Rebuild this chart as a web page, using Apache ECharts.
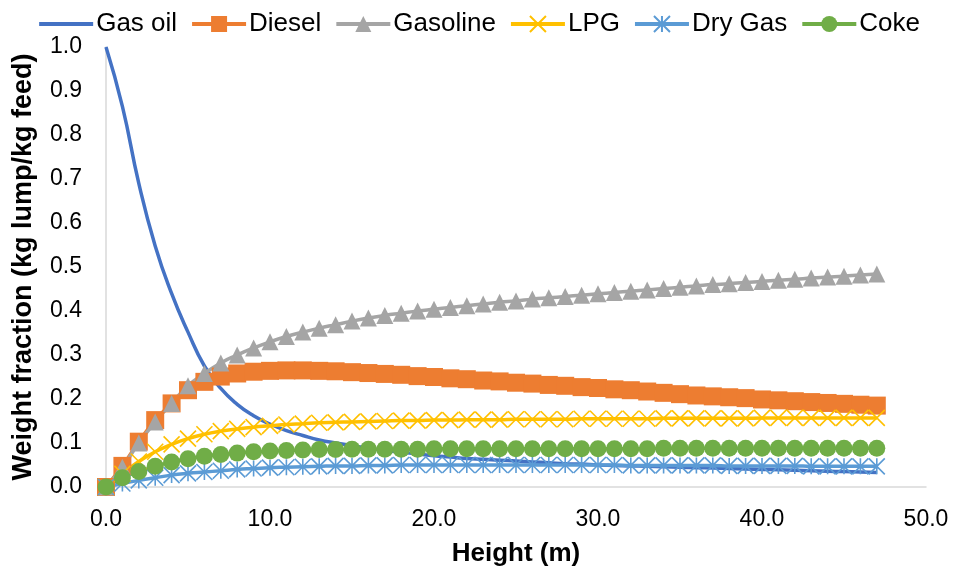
<!DOCTYPE html>
<html>
<head>
<meta charset="utf-8">
<script src="https://cdn.jsdelivr.net/npm/echarts@6/dist/echarts.min.js"></script>
<style>
  html, body { margin: 0; padding: 0; background: #fff; }
  #chart { width: 955px; height: 572px; }
</style>
</head>
<body>
<div id="chart"></div>
<script>
// height along the riser (m)
const heights = [0, 1, 2, 3, 4, 5, 6, 7, 8, 9, 10, 11, 12, 13, 14, 15, 16, 17, 18, 19, 20, 21, 22, 23,
    24, 25, 26, 27, 28, 29, 30, 31, 32, 33, 34, 35, 36, 37, 38, 39, 40, 41, 42, 43, 44, 45, 46, 47]

const gasOil = [1.000, 0.865, 0.690, 0.548, 0.440, 0.352, 0.275, 0.224, 0.188, 0.162, 0.143, 0.128,
    0.117, 0.107, 0.100, 0.094, 0.088, 0.083, 0.079, 0.075, 0.071, 0.068, 0.065, 0.063,
    0.061, 0.059, 0.057, 0.055, 0.053, 0.052, 0.050, 0.049, 0.048, 0.047, 0.046, 0.045,
    0.044, 0.043, 0.042, 0.041, 0.040, 0.039, 0.038, 0.037, 0.036, 0.035, 0.034, 0.033]

const diesel = [0, 0.048, 0.103, 0.152, 0.190, 0.220, 0.239, 0.251, 0.258, 0.262, 0.264, 0.265,
    0.265, 0.264, 0.263, 0.261, 0.259, 0.257, 0.255, 0.252, 0.250, 0.247, 0.245, 0.242,
    0.240, 0.237, 0.235, 0.232, 0.230, 0.227, 0.225, 0.222, 0.220, 0.217, 0.214, 0.211,
    0.208, 0.206, 0.204, 0.202, 0.199, 0.197, 0.195, 0.193, 0.191, 0.189, 0.187, 0.185]

const gasoline = [0, 0.045, 0.100, 0.148, 0.190, 0.230, 0.258, 0.282, 0.300, 0.316, 0.330, 0.342,
    0.352, 0.361, 0.369, 0.377, 0.384, 0.390, 0.395, 0.400, 0.404, 0.408, 0.412, 0.416,
    0.420, 0.423, 0.427, 0.430, 0.433, 0.436, 0.439, 0.442, 0.445, 0.448, 0.451, 0.454,
    0.457, 0.460, 0.462, 0.465, 0.467, 0.470, 0.472, 0.475, 0.477, 0.479, 0.482, 0.484]

const lpg = [0, 0.030, 0.058, 0.080, 0.097, 0.110, 0.120, 0.127, 0.132, 0.136, 0.139, 0.142,
    0.144, 0.146, 0.147, 0.148, 0.149, 0.150, 0.151, 0.151, 0.152, 0.152, 0.153, 0.153,
    0.153, 0.154, 0.154, 0.154, 0.154, 0.155, 0.155, 0.155, 0.155, 0.155, 0.156, 0.156,
    0.156, 0.156, 0.156, 0.156, 0.157, 0.157, 0.157, 0.157, 0.157, 0.157, 0.157, 0.157]

const dryGas = [0, 0.008, 0.015, 0.021, 0.027, 0.031, 0.034, 0.037, 0.040, 0.042, 0.044, 0.045,
    0.046, 0.047, 0.048, 0.048, 0.049, 0.049, 0.050, 0.050, 0.050, 0.050, 0.050, 0.050,
    0.050, 0.050, 0.050, 0.050, 0.050, 0.050, 0.050, 0.050, 0.049, 0.049, 0.049, 0.049,
    0.049, 0.049, 0.048, 0.048, 0.048, 0.048, 0.048, 0.047, 0.047, 0.047, 0.047, 0.047]

const coke = [0, 0.021, 0.035, 0.047, 0.057, 0.064, 0.070, 0.074, 0.077, 0.080, 0.082, 0.083,
    0.084, 0.085, 0.085, 0.086, 0.086, 0.086, 0.086, 0.086, 0.087, 0.087, 0.087, 0.087,
    0.087, 0.087, 0.087, 0.087, 0.087, 0.087, 0.087, 0.087, 0.087, 0.087, 0.088, 0.088,
    0.088, 0.088, 0.088, 0.088, 0.088, 0.088, 0.088, 0.088, 0.088, 0.088, 0.088, 0.088]

const font = 'Liberation Sans, Arial, sans-serif'
const crossPath = 'path://M0,0L10,10M10,0L0,10'
const starPath = 'path://M0,0L10,10M10,0L0,10M5,0L5,10'

function pairs(ys) {
    return heights.map((h, i) => [h, ys[i]])
}

function lineSeries(name, ys, color, symbol, size, extra) {
    return Object.assign({
        name: name,
        type: 'line',
        data: pairs(ys),
        smooth: true,
        symbol: symbol,
        symbolSize: size,
        showAllSymbol: true,
        lineStyle: { color: color, width: 3.5 },
        itemStyle: { color: color },
        emphasis: { disabled: true },
        animation: false
    }, extra || {})
}

const chart = echarts.init(document.getElementById('chart'))
chart.setOption({
    backgroundColor: '#fff',
    textStyle: { fontFamily: font },
    legend: {
        top: 6,
        right: 30,
        itemWidth: 54,
        itemHeight: 20,
        itemGap: 13,
        lineStyle: { width: 4 },
        textStyle: { fontFamily: font, fontSize: 26, color: '#000', padding: [0, 0, 0, -2] },
        data: [
            { name: 'Gas oil', itemStyle: { opacity: 0 } },
            'Diesel', 'Gasoline', 'LPG', 'Dry Gas', 'Coke'
        ]
    },
    grid: { left: 106, right: 29, top: 47, bottom: 85 },
    xAxis: {
        type: 'value',
        min: 0,
        max: 50,
        interval: 10,
        name: 'Height (m)',
        nameLocation: 'middle',
        nameGap: 54,
        nameTextStyle: { fontFamily: font, fontSize: 26, fontWeight: 'bold', color: '#000' },
        axisLine: { lineStyle: { color: '#D9D9D9', width: 1.5 } },
        axisTick: { show: false },
        splitLine: { show: false },
        axisLabel: {
            margin: 21,
            fontFamily: font,
            fontSize: 23,
            color: '#000',
            formatter: v => v.toFixed(1)
        }
    },
    yAxis: {
        type: 'value',
        min: 0,
        max: 1,
        interval: 0.1,
        name: 'Weight fraction (kg lump/kg feed)',
        nameLocation: 'middle',
        nameGap: 69,
        nameTextStyle: { fontFamily: font, fontSize: 27, fontWeight: 'bold', color: '#000' },
        axisLine: { show: true, lineStyle: { color: '#D9D9D9', width: 1.5 } },
        axisTick: { show: false },
        splitLine: { show: false },
        axisLabel: {
            margin: 24,
            fontFamily: font,
            fontSize: 23,
            color: '#000',
            formatter: v => v.toFixed(1)
        }
    },
    series: [
        lineSeries('Gas oil', gasOil, '#4472C4', 'none', 0, { lineStyle: { color: '#4472C4', width: 3.5 } }),
        lineSeries('Diesel', diesel, '#ED7D31', 'rect', 18),
        lineSeries('Gasoline', gasoline, '#A5A5A5', 'triangle', 17),
        lineSeries('LPG', lpg, '#FFC000', crossPath, 16, {
            itemStyle: { color: '#FFC000', borderColor: '#FFC000', borderWidth: 1.6 }
        }),
        lineSeries('Dry Gas', dryGas, '#5B9BD5', starPath, 16, {
            itemStyle: { color: '#5B9BD5', borderColor: '#5B9BD5', borderWidth: 1.6 }
        }),
        lineSeries('Coke', coke, '#70AD47', 'circle', 17)
    ]
})
</script>
</body>
</html>
